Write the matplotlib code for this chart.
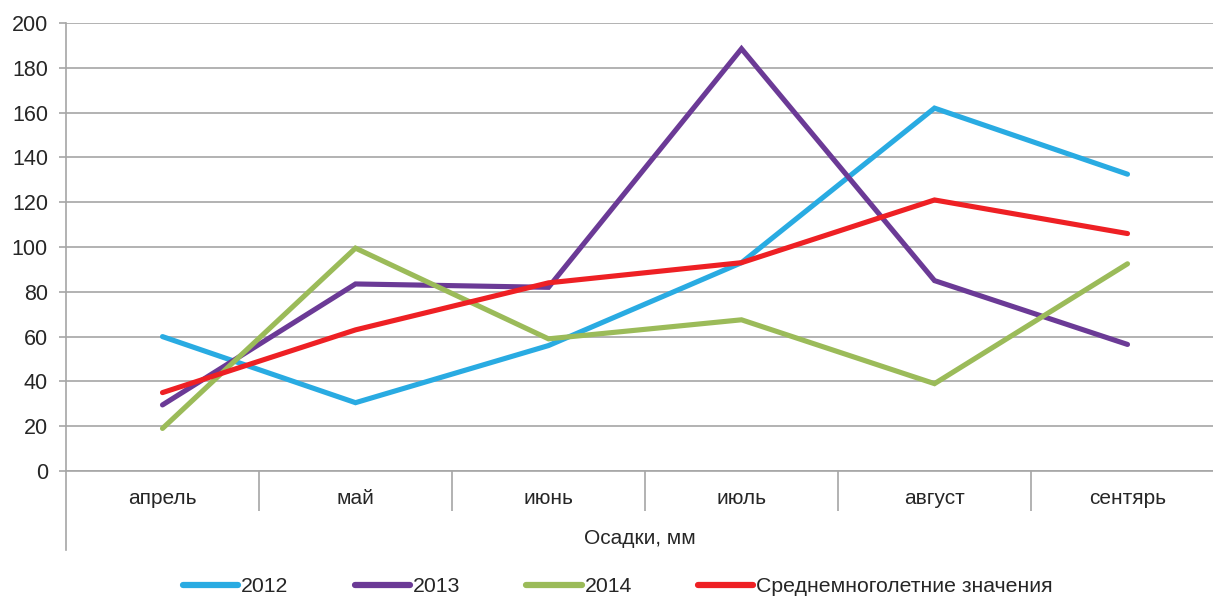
import matplotlib
matplotlib.use("Agg")
import matplotlib.pyplot as plt

plt.rcParams['font.family'] = ['Liberation Sans', 'DejaVu Sans']

months = ["апрель", "май", "июнь", "июль", "август", "сентярь"]
y2012 = [60, 30.5, 56, 93, 162, 132.5]
y2013 = [29.5, 83.5, 82, 188.5, 85, 56.5]
y2014 = [19, 99.5, 59, 67.5, 39, 92.5]
avg = [35, 63, 84, 93, 121, 106]

series = [
    ("2012", y2012, "#29abe2"),
    ("2013", y2013, "#6b3a96"),
    ("2014", y2014, "#9bbb59"),
    ("Среднемноголетние значения", avg, "#ee2024"),
]

fig = plt.figure(figsize=(12.13, 6.01), dpi=100)
ax = fig.add_axes([66/1213, 130/601, 1158/1213, 448/601])

grid_c = "#a6a6a6"
txt_c = "#262626"
x = list(range(len(months)))

for name, vals, col in series:
    ax.plot(x, vals, color=col, lw=3.7, solid_capstyle='round',
            solid_joinstyle='miter', label=name, zorder=3)

ax.set_xlim(-0.5, len(months) - 0.5)
ax.set_ylim(0, 200)
ax.set_yticks(range(0, 201, 20))
ax.yaxis.grid(True, color=grid_c, lw=1.2)
ax.set_axisbelow(True)

for s in ["top", "right"]:
    ax.spines[s].set_visible(False)
ax.spines["left"].set_color(grid_c)
ax.spines["bottom"].set_color(grid_c)
ax.spines["left"].set_linewidth(1.2)
ax.spines["bottom"].set_linewidth(1.2)

ax.tick_params(axis='y', length=5, width=1.2, color=grid_c, labelsize=15.5,
               labelcolor=txt_c, pad=8)
ax.set_xticks(x)
ax.set_xticklabels(months)
ax.tick_params(axis='x', which='major', length=0, labelsize=15,
               labelcolor=txt_c, pad=13)
ax.set_xticks([i + 0.5 for i in range(len(months) - 1)], minor=True)
ax.tick_params(axis='x', which='minor', length=29, width=1.2, color=grid_c)

# left axis line runs down past the category labels
ax.plot([0, 0], [0, -79/448], transform=ax.transAxes, color=grid_c,
        lw=1.2, clip_on=False)

fig.text(640/1213, 1 - 538/601, "Осадки, мм", ha='center', va='center',
         fontsize=15, color=txt_c)

fig.legend(loc='center', bbox_to_anchor=(618/1213, 1 - 587/601), ncol=4,
           frameon=False, fontsize=15.3, handlelength=2.6, handletextpad=0.15,
           columnspacing=3.1, labelcolor=txt_c)
for ln in fig.legends[0].get_lines():
    ln.set_linewidth(4.5)

fig.savefig("out.png", dpi=100)
